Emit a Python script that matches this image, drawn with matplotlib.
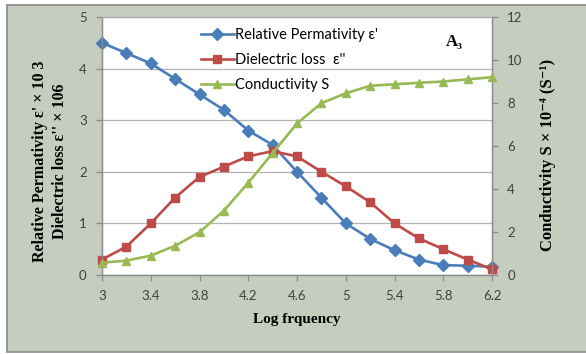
import matplotlib

matplotlib.use("Agg")

import matplotlib.pyplot as plt
from matplotlib.patches import Rectangle

# log frequency steps and measured curves
log_freq = [3.0, 3.2, 3.4, 3.6, 3.8, 4.0, 4.2, 4.4, 4.6, 4.8,
            5.0, 5.2, 5.4, 5.6, 5.8, 6.0, 6.2]
permittivity = [4.5, 4.3, 4.1, 3.8, 3.5, 3.2, 2.8, 2.52, 2.0, 1.5,
                1.0, 0.7, 0.48, 0.3, 0.19, 0.18, 0.16]
diel_loss = [0.3, 0.55, 1.0, 1.5, 1.9, 2.1, 2.3, 2.4, 2.3, 2.0,
             1.72, 1.41, 1.0, 0.71, 0.5, 0.3, 0.11]
conductivity = [0.57, 0.67, 0.9, 1.36, 1.99, 2.99, 4.29, 5.67, 7.05, 7.99,
                8.45, 8.8, 8.87, 8.94, 9.0, 9.1, 9.2]

x_ticks = [3.0, 3.4, 3.8, 4.2, 4.6, 5.0, 5.4, 5.8, 6.2]
x_tick_labels = ["3", "3.4", "3.8", "4.2", "4.6", "5", "5.4", "5.8", "6.2"]
left_ticks = [0, 1, 2, 3, 4, 5]
right_ticks = [0, 2, 4, 6, 8, 10, 12]

BLUE = "#4a7ebb"
RED = "#be4b48"
GREEN = "#98b954"
PANEL = "#c4cdbe"
AXIS_GREY = "#8c8c8c"
TICK_TEXT = "#404040"

sans = ["Lato", "DejaVu Sans"]
serif = ["Liberation Serif", "DejaVu Serif"]

fig = plt.figure(figsize=(5.86, 3.54), dpi=100, facecolor="white")
panel = Rectangle((7 / 586, 2 / 354), 1.0, 347 / 354,
                  transform=fig.transFigure, facecolor=PANEL,
                  edgecolor="#8a8a8a", linewidth=1.2, zorder=-10)
fig.add_artist(panel)

ax = fig.add_axes([102 / 586, 79 / 354, 390 / 586, 258 / 354])
ax.set_facecolor("white")
ax2 = ax.twinx()

ax.plot(log_freq, permittivity, color=BLUE, lw=1.9, marker="D", ms=6.5,
        clip_on=False, zorder=3, label="Relative Permativity ε'")
ax.plot(log_freq, diel_loss, color=RED, lw=1.9, marker="s", ms=5.5,
        clip_on=False, zorder=3, label="Dielectric loss  ε''")
ax2.plot(log_freq, conductivity, color=GREEN, lw=1.9, marker="^", ms=6,
         clip_on=False, zorder=3, label="Conductivity S")

ax.set_xlim(3.0, 6.2)
ax.set_ylim(0, 5)
ax2.set_ylim(0, 12)
ax.set_xticks(x_ticks)
ax.set_xticklabels(x_tick_labels)
ax.set_yticks(left_ticks)
ax2.set_yticks(right_ticks)

ax.grid(axis="y", color="#b3b3b3", lw=0.9)
ax.set_axisbelow(True)

for a in (ax, ax2):
    for side, sp in a.spines.items():
        sp.set_color(AXIS_GREY)
        sp.set_linewidth(0.9)
    a.spines["top"].set_color("#b3b3b3")
    a.tick_params(colors=AXIS_GREY, labelcolor=TICK_TEXT, length=4,
                  width=0.9, labelsize=9.5)
    for lbl in a.get_xticklabels() + a.get_yticklabels():
        lbl.set_family(sans)
ax.tick_params(axis="y", pad=7)
ax.tick_params(axis="x", pad=7)
ax2.tick_params(axis="y", pad=7)

ax.set_xlabel("Log frquency", family=serif, fontweight="bold",
              fontsize=11, labelpad=8)

fig.text(50 / 586, 1 - 161 / 354,
         "Relative Permativity ε' × 10 3\nDielectric loss ε'' × 106",
         rotation=90, ha="center", va="center", family=serif,
         fontweight="bold", fontsize=11.5, linespacing=1.3)
fig.text(548 / 586, 1 - 155 / 354, "Conductivity S × 10⁻⁴ (S⁻¹)",
         rotation=90, ha="center", va="center", family=serif,
         fontweight="bold", fontsize=12)

ax2.text(454 / 586, 1 - 42 / 354, "A₃", transform=fig.transFigure,
         ha="center", va="center", family=serif, fontweight="bold",
         fontsize=12)

handles = ax.get_lines() + ax2.get_lines()
ax2.legend(handles, [h.get_label() for h in handles], loc="upper left",
           bbox_to_anchor=(0.225, 1.0), frameon=False,
           prop={"family": sans, "size": 10.5}, handlelength=2.3,
           handletextpad=0.05, labelspacing=0.75, borderaxespad=0.35)

fig.savefig("out.png", dpi=100, facecolor=fig.get_facecolor())
